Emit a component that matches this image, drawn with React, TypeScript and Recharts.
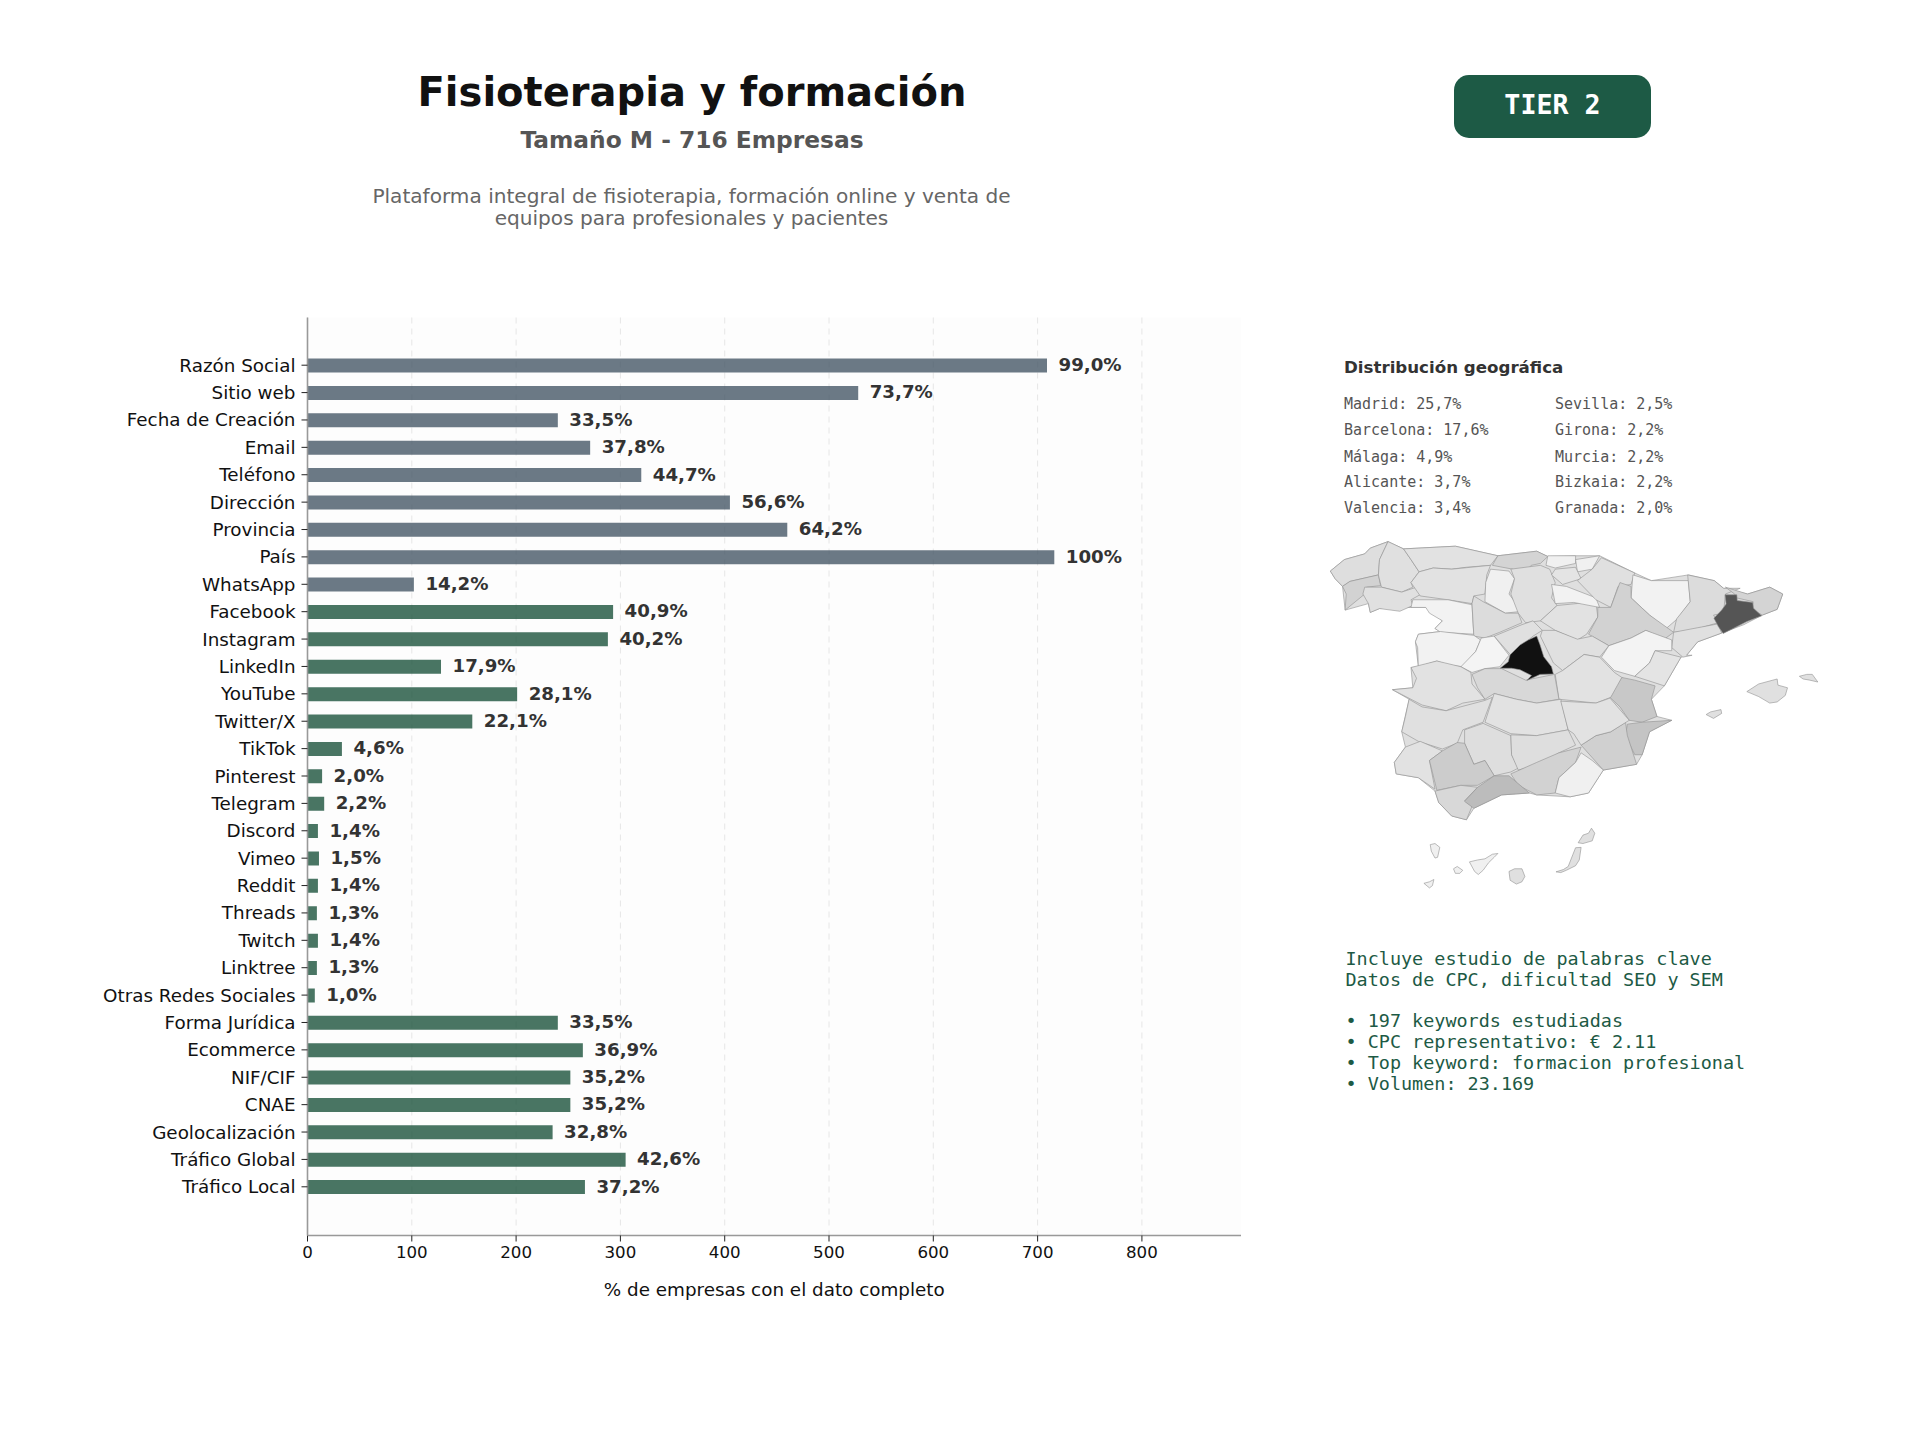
import React from "react";
import { BarChart, Bar, XAxis, YAxis, CartesianGrid, Cell, LabelList, ScatterChart, Scatter } from "recharts";

const categories = ["Razón Social","Sitio web","Fecha de Creación","Email","Teléfono","Dirección","Provincia","País","WhatsApp","Facebook","Instagram","LinkedIn","YouTube","Twitter/X","TikTok","Pinterest","Telegram","Discord","Vimeo","Reddit","Threads","Twitch","Linktree","Otras Redes Sociales","Forma Jurídica","Ecommerce","NIF/CIF","CNAE","Geolocalización","Tráfico Global","Tráfico Local"];
const counts = [709,528,240,271,320,405,460,716,102,293,288,128,201,158,33,14,16,10,11,10,9,10,9,7,240,264,252,252,235,305,266];
const percentLabels = ["99,0%","73,7%","33,5%","37,8%","44,7%","56,6%","64,2%","100%","14,2%","40,9%","40,2%","17,9%","28,1%","22,1%","4,6%","2,0%","2,2%","1,4%","1,5%","1,4%","1,3%","1,4%","1,3%","1,0%","33,5%","36,9%","35,2%","35,2%","32,8%","42,6%","37,2%"];
const greyRowCount = 9;
const xTicks = [0,100,200,300,400,500,600,700,800];
const xMax = 895;

const geoLeft = ["Madrid: 25,7%","Barcelona: 17,6%","Málaga: 4,9%","Alicante: 3,7%","Valencia: 3,4%"];
const geoRight = ["Sevilla: 2,5%","Girona: 2,2%","Murcia: 2,2%","Bizkaia: 2,2%","Granada: 2,0%"];
const keywordLines = ["Incluye estudio de palabras clave","Datos de CPC, dificultad SEO y SEM","","• 197 keywords estudiadas","• CPC representativo: € 2.11","• Top keyword: formacion profesional","• Volumen: 23.169"];
const descriptionLines = ["Plataforma integral de fisioterapia, formación online y venta de","equipos para profesionales y pacientes"];

const peninsulaOutline = "82,630 120,600 175,585 190,570 238,553 280,572 420,565 535,590 640,578 670,592 745,590 810,590 905,635 950,655 1050,640 1120,655 1145,675 1210,690 1270,672 1305,690 1290,730 1250,745 1200,770 1140,792 1075,815 1045,850 1030,855 985,930 950,965 965,1010 1005,1020 945,1050 925,1110 910,1135 820,1150 780,1210 730,1220 640,1215 620,1210 545,1215 470,1250 450,1280 410,1270 375,1235 365,1205 320,1170 260,1160 255,1130 285,1090 275,1050 295,965 250,940 305,935 300,882 320,880 312,815 320,795 380,788 365,780 385,760 340,725 300,725 215,728 190,738 185,715 122,732 115,670 95,650";

// province outlines: [shade, "x,y x,y ..."] in map units
const provinces: [string, string][] = [
["#dedede","82,630 120,600 175,585 190,570 238,553 215,600 212,640 135,657 115,670 95,650"],
["#d2d2d2","135,657 212,640 218,668 180,672 175,690 122,732 125,690 115,670"],
["#e0e0e0","238,553 280,572 300,600 322,632 300,660 305,672 275,685 220,672 212,640 215,600"],
["#e0e0e0","175,672 220,672 275,685 315,672 328,690 300,705 305,720 270,735 215,728 190,738 185,715 170,690"],
["#e2e2e2","280,572 420,565 535,590 515,615 450,620 410,625 360,622 322,632 300,600"],
["#d4d4d4","535,590 640,578 670,592 650,610 625,615 600,645 575,625 520,615"],
["#e2e2e2","322,632 360,622 410,625 515,615 505,640 500,690 470,695 465,715 400,705 325,695 300,660"],
["#f0f0f0","515,625 565,630 580,650 565,690 600,735 555,740 500,710 502,660"],
["#e0e0e0","580,650 570,625 650,615 675,625 690,660 680,700 695,720 650,760 610,765 590,740 570,690"],
["#f2f2f2","305,705 400,705 465,718 468,770 470,795 380,790 365,780 385,760 350,740 340,725 300,725"],
["#dcdcdc","465,715 470,695 495,710 555,740 590,740 600,765 540,790 500,805 470,800"],
["#f2f2f2","320,795 380,788 470,798 488,810 475,840 440,880 400,875 370,865 320,880 318,830 312,815"],
["#f4f4f4","490,805 525,800 565,850 540,880 500,885 465,895 435,880 475,840"],
["#e0e0e0","525,800 600,770 630,760 655,785 630,800 570,850"],
["#e2e2e2","650,760 695,720 800,710 805,750 775,795 750,810 690,785"],
["#f2f2f2","680,665 720,670 800,700 810,725 740,712 690,715"],
["#f0f0f0","670,590 745,590 745,610 690,622 665,615"],
["#f0f0f0","745,600 810,590 790,625 750,632"],
["#e4e4e4","690,625 745,620 760,650 710,665 680,640"],
["#e0e0e0","790,625 815,595 905,635 895,665 860,670 840,725 800,705 750,655"],
["#f2f2f2","900,640 950,655 1050,655 1055,710 1020,755 990,780 945,745 895,700"],
["#d2d2d2","865,660 895,670 895,700 945,745 1010,790 985,808 935,785 895,805 835,825 780,795 805,750 805,725 840,725"],
["#dcdcdc","1048,640 1120,655 1145,675 1190,675 1150,690 1145,740 1118,745 1130,765 1060,785 1010,790 1018,755 1055,710"],
["#d4d4d4","1150,672 1210,690 1270,672 1305,690 1290,730 1250,745 1222,730 1225,710 1180,700 1175,690"],
["#e0e0e0","1130,768 1140,792 1075,815 1045,850 1060,850 1035,855 1005,830 1010,790"],
["#e0e0e0","655,785 690,785 750,808 790,800 835,825 810,855 768,848 710,890 685,870 650,800"],
["#f3f3f3","895,805 935,785 1005,810 1005,838 960,838 945,870 905,905 850,890 815,855 835,825"],
["#e4e4e4","960,838 1030,855 985,930 905,905 945,870"],
["#c8c8c8","870,908 905,915 960,930 950,965 965,1010 925,1025 890,1020 865,985 838,960 855,930"],
["#c4c4c4","925,1025 1005,1020 945,1050 925,1110 905,1110 880,1060 885,1030"],
["#d0d0d0","880,1025 885,1060 910,1135 820,1150 760,1085 800,1060 840,1050"],
["#e2e2e2","710,890 768,848 810,855 850,895 870,908 840,960 800,975 700,965 690,900"],
["#d8d8d8","465,900 500,885 545,885 610,915 688,900 700,965 640,975 585,965 525,950 500,965 480,935"],
["#e2e2e2","300,882 370,865 435,880 462,895 465,925 500,965 440,975 395,995 330,980 300,965 250,940 305,935 315,910"],
["#e0e0e0","295,965 330,985 395,995 500,968 520,960 495,1025 440,1045 425,1080 385,1095 320,1075 275,1050 285,1010"],
["#e2e2e2","525,950 585,965 640,975 705,965 725,1045 640,1060 570,1055 500,1025"],
["#e2e2e2","705,970 800,975 838,962 890,1020 840,1050 800,1060 760,1085 740,1055 725,1045"],
["#dedede","445,1045 495,1028 570,1060 572,1110 590,1145 570,1155 525,1165 500,1125 470,1135 445,1080"],
["#dedede","570,1058 640,1060 725,1045 745,1085 700,1105 650,1135 590,1150 572,1110"],
["#e2e2e2","325,1075 385,1100 350,1125 365,1200 320,1170 260,1160 255,1130 285,1090"],
["#cccccc","425,1078 445,1080 470,1135 500,1125 525,1165 480,1190 435,1190 370,1203 350,1125 385,1100"],
["#d8d8d8","365,1205 435,1190 480,1195 445,1230 465,1245 450,1280 410,1270 375,1235"],
["#d2d2d2","570,1160 640,1130 700,1105 760,1090 745,1130 700,1170 690,1210 640,1215 590,1190"],
["#bcbcbc","525,1165 565,1165 620,1210 545,1215 470,1250 445,1232 480,1195"],
["#f0f0f0","760,1105 790,1125 820,1150 780,1210 730,1220 690,1210 700,1170 745,1130"],
["#555555","1149,692 1181,692 1182,707 1224,712 1226,727 1248,747 1208,762 1171,780 1144,793 1131,775 1119,753 1140,732 1152,716"],
["#111111","640,800 649,823 659,854 680,880 685,899 649,900 613,916 626,903 595,888 572,884 541,884 563,867 568,849 595,823 617,810"],
["#e0e0e0","1208,945 1240,925 1290,912 1292,928 1318,935 1312,955 1290,972 1270,975 1240,958"],
["#e0e0e0","1350,905 1370,900 1385,900 1400,920 1378,915 1360,912"],
["#e0e0e0","1098,1005 1110,998 1138,992 1140,1002 1118,1015"],
["#f0f0f0","352,1345 365,1342 378,1352 372,1378 365,1380 355,1362"],
["#f0f0f0","415,1408 425,1402 440,1412 432,1420 420,1420"],
["#f0f0f0","458,1390 480,1385 500,1382 520,1370 535,1368 525,1378 510,1392 495,1412 482,1423 472,1415"],
["#e0e0e0","565,1415 580,1408 600,1408 608,1428 600,1442 585,1448 568,1438"],
["#e0e0e0","692,1416 712,1410 725,1402 738,1370 745,1353 760,1352 755,1385 745,1400 720,1412 705,1418"],
["#e0e0e0","752,1340 765,1320 780,1315 788,1302 797,1315 790,1335 765,1342"],
["#f0f0f0","335,1446 350,1442 362,1436 358,1452 350,1458"],
];

const barRows = categories.map((name, i) => ({ name, count: counts[i], label: percentLabels[i] }));
const toPoints = (s: string) => {
  const pts = s.split(" ").map((p) => { const [x, y] = p.split(",").map(Number); return { x, y }; });
  return [...pts, pts[0]];
};

const sans = '"DejaVu Sans", sans-serif';
const mono = '"DejaVu Sans Mono", monospace';
const Txt = ({ x, cy, size, color, weight, family, align, children }: any) => {
  const style: any = { position: "absolute", top: cy - 20, height: 40, lineHeight: "40px", fontSize: size, color, fontWeight: weight || 400, fontFamily: family || sans, whiteSpace: "pre" };
  if (align === "center") { style.left = x - 500; style.width = 1000; style.textAlign = "center"; } else { style.left = x; }
  return <div style={style}>{children}</div>;
};

const geoRowY = [403.5, 430, 456.5, 482, 508];
const keywordY = [959, 980, 1001, 1020.5, 1042, 1063, 1084];

export default function App() {
  return (
    <div style={{ position: "absolute", left: 0, top: 0, width: 1920, height: 1440, background: "#fff", overflow: "hidden" }}>
      <div style={{ position: "absolute", left: 0, top: 0 }}>
        <BarChart width={1300} height={1330} layout="vertical" data={barRows} margin={{ top: 317.5, right: 59, left: 0, bottom: 34.5 }}>
          <CartesianGrid horizontal={false} verticalValues={xTicks} fill="#fdfdfd" stroke="#e6e6e6" strokeDasharray="6 5" />
          <XAxis type="number" domain={[0, xMax]} ticks={xTicks} height={60} allowDataOverflow
            axisLine={{ stroke: "#999", strokeWidth: 1.6 }} tickLine={{ stroke: "#222" }} tickSize={6} tickMargin={5}
            tick={{ fontSize: 16.67, fill: "#111", fontFamily: sans }}
            label={{ value: "% de empresas con el dato completo", position: "insideBottom", offset: 0, fontSize: 18.33, fill: "#111", fontFamily: sans }} />
          <YAxis type="category" dataKey="name" width={307.5} interval={0} padding={{ top: 34, bottom: 35 }}
            axisLine={{ stroke: "#999", strokeWidth: 1.6 }} tickLine={{ stroke: "#222" }} tickSize={6} tickMargin={6}
            tick={{ fontSize: 18.33, fill: "#111", fontFamily: sans }} />
          <Bar dataKey="count" barSize={14} isAnimationActive={false} fillOpacity={0.8}>
            {barRows.map((r, i) => <Cell key={r.name} fill={i < greyRowCount ? "#465766" : "#1b533c"} />)}
            <LabelList dataKey="label" position="right" offset={11.5} dy={-1} style={{ fontSize: 18.2, fontWeight: 700, fill: "#333", fontFamily: sans }} />
          </Bar>
        </BarChart>
      </div>

      <div style={{ position: "absolute", left: 1300, top: 330 }}>
        <ScatterChart width={580} height={600} margin={{ top: 0, right: 0, bottom: 0, left: 0 }}>
          <XAxis type="number" dataKey="x" domain={[0, 1568]} hide allowDataOverflow />
          <YAxis type="number" dataKey="y" domain={[0, 1568]} reversed hide allowDataOverflow />
          <Scatter data={toPoints(peninsulaOutline)} isAnimationActive={false} shape={() => <g />}
            line={{ stroke: "#909090", strokeWidth: 0.6, fill: "#dfdfdf" }} />
          {provinces.map(([shade, outline], i) => (
            <Scatter key={i} data={toPoints(outline)} isAnimationActive={false} shape={() => <g />}
              line={{ stroke: "#909090", strokeWidth: 0.6, fill: shade }} />
          ))}
        </ScatterChart>
      </div>

      <Txt x={692} cy={91.5} size={40} color="#111" weight={700} align="center">Fisioterapia y formación</Txt>
      <Txt x={692} cy={140} size={23.33} color="#555" weight={700} align="center">Tamaño M - 716 Empresas</Txt>
      {descriptionLines.map((l, i) => <Txt key={l} x={691.5} cy={196 + i * 22} size={20.1} color="#666" align="center">{l}</Txt>)}

      <div style={{ position: "absolute", left: 1453.5, top: 75, width: 197, height: 63, borderRadius: 15, background: "#1d5a45" }} />
      <Txt x={1552.5} cy={105} size={26.67} color="#fff" weight={700} family={mono} align="center">TIER 2</Txt>

      <Txt x={1344} cy={368} size={16.67} color="#333" weight={700}>Distribución geográfica</Txt>
      {geoLeft.map((l, i) => <Txt key={l} x={1344} cy={geoRowY[i]} size={15} color="#555" family={mono}>{l}</Txt>)}
      {geoRight.map((l, i) => <Txt key={l} x={1555} cy={geoRowY[i]} size={15} color="#555" family={mono}>{l}</Txt>)}

      {keywordLines.map((l, i) => l ? <Txt key={l} x={1345.5} cy={keywordY[i]} size={18.45} color="#1d5a45" family={mono}>{l}</Txt> : null)}
    </div>
  );
}
